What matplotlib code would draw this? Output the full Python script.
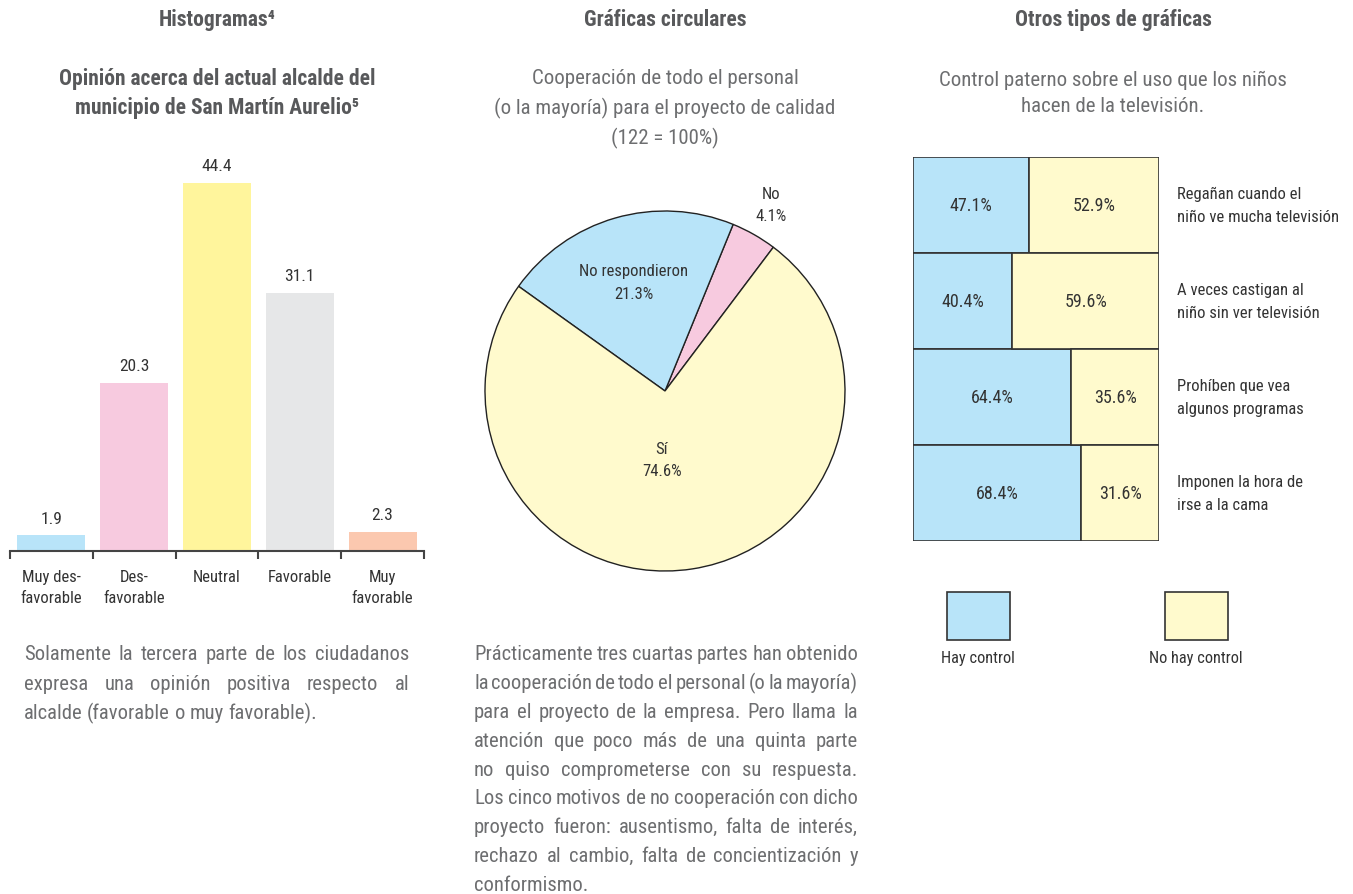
import numpy as np
import matplotlib
matplotlib.use('Agg')
import matplotlib.pyplot as plt
from matplotlib import font_manager as fm
from matplotlib.patches import Rectangle

# buscar una sans estrecha entre las instaladas
estrechas = []
for f in fm.fontManager.ttflist:
    st = f.stretch
    angosta = ('Condensed' in f.name or 'Narrow' in f.name or
               (isinstance(st, str) and 'condensed' in st) or
               (isinstance(st, (int, float)) and st < 500))
    if angosta:
        estrechas.append(f.name)
preferidas = ['Roboto Condensed', 'Liberation Sans Narrow', 'Open Sans Condensed',
              'Noto Sans', 'DejaVu Sans', 'Roboto', 'Open Sans']
fuente = next((p for p in preferidas if p in estrechas), estrechas[0] if estrechas else None)
if fuente is not None:
    plt.rcParams['font.family'] = [fuente, 'DejaVu Sans']
    plt.rcParams['font.stretch'] = 'condensed'

# Histograma: opinión sobre el alcalde
op_categorias = ['Muy des-\nfavorable', 'Des-\nfavorable', 'Neutral', 'Favorable', 'Muy\nfavorable']
op_valores = [1.9, 20.3, 44.4, 31.1, 2.3]
op_colores = ['#b8e4f9', '#f7cadf', '#fff59c', '#e6e7e8', '#fbc8af']

# Gráfica circular: cooperación del personal
coop_etiquetas = ['No', 'No respondieron', 'Sí']
coop_valores = [4.1, 21.3, 74.6]
coop_colores = ['#f7cadf', '#b8e4f9', '#fffacd']

# Control paterno (porcentajes por fila)
ctrl_filas = ['Regañan cuando el\nniño ve mucha televisión',
              'A veces castigan al\nniño sin ver televisión',
              'Prohíben que vea\nalgunos programas',
              'Imponen la hora de\nirse a la cama']
ctrl_si = [47.1, 40.4, 64.4, 68.4]
ctrl_no = [52.9, 59.6, 35.6, 31.6]
ctrl_leyenda = ['Hay control', 'No hay control']

texto_hist = ['Solamente la tercera parte de los ciudadanos',
              'expresa una opinión positiva respecto al',
              'alcalde (favorable o muy favorable).']
texto_pie = ['Prácticamente tres cuartas partes han obtenido',
             'la cooperación de todo el personal (o la mayoría)',
             'para el proyecto de la empresa. Pero llama la',
             'atención que poco más de una quinta parte',
             'no quiso comprometerse con su respuesta.',
             'Los cinco motivos de no cooperación con dicho',
             'proyecto fueron: ausentismo, falta de interés,',
             'rechazo al cambio, falta de concientización y',
             'conformismo.']

W, H = 1353, 895
TIT = '#58595b'
SUB = '#6d6e70'
ETQ = '#333333'


def fx(x):
    return x / W


def fy(y):
    return 1 - y / H


fig = plt.figure(figsize=(W / 100, H / 100), dpi=100)
rend = fig.canvas.get_renderer()


def lineas(x, y0, dy, textos, ha='center', **kw):
    for i, t in enumerate(textos):
        fig.text(fx(x), fy(y0 + i * dy), t, ha=ha, va='center', **kw)


def ancho_palabras(linea, fontsize):
    t = fig.text(0, 0, linea.replace(' ', ''), fontsize=fontsize)
    w = t.get_window_extent(rend).width
    t.remove()
    return w


def cuerpo_comun(parrafos, ancho, fontsize, hueco_min=3.0):
    # cuerpo único para que todas las líneas quepan en su columna
    f = 1.0
    for textos in parrafos:
        for linea in textos:
            n = len(linea.split()) - 1
            w = ancho_palabras(linea, fontsize)
            f = min(f, (ancho - hueco_min * n) / w)
    return fontsize * f


def justificado(x0, x1, y0, dy, textos, fontsize, **kw):
    ancho = x1 - x0
    for i, linea in enumerate(textos):
        y = fy(y0 + i * dy)
        palabras = linea.split()
        objs = [fig.text(0, y, p, ha='left', va='center', fontsize=fontsize, **kw)
                for p in palabras]
        anchos = [o.get_window_extent(rend).width for o in objs]
        if i == len(textos) - 1:
            hueco = 4.5
        else:
            hueco = (ancho - sum(anchos)) / (len(palabras) - 1)
        x = x0
        for o, a in zip(objs, anchos):
            o.set_x(fx(x))
            x += a + hueco


# ---- títulos ----
lineas(217, 20, 0, ['Histogramas⁴'], fontsize=15.5, fontweight='bold', color=TIT)
lineas(217, 79, 29, ['Opinión acerca del actual alcalde del',
                     'municipio de San Martín Aurelio⁵'],
       fontsize=15.5, fontweight='bold', color=TIT)
lineas(665, 20, 0, ['Gráficas circulares'], fontsize=15.5, fontweight='bold', color=TIT)
lineas(665, 79, 29.5, ['Cooperación de todo el personal',
                       '(o la mayoría) para el proyecto de calidad',
                       '(122 = 100%)'], fontsize=15, color=SUB)
lineas(1113, 20, 0, ['Otros tipos de gráficas'], fontsize=15.5, fontweight='bold', color=TIT)
lineas(1113, 80, 27, ['Control paterno sobre el uso que los niños',
                      'hacen de la televisión.'], fontsize=15, color=SUB)

# ---- histograma ----
ax1 = fig.add_axes([fx(10), fy(552), (424 - 10) / W, (552 - 150) / H])
x = np.arange(len(op_valores))
ax1.bar(x, op_valores, width=0.82, color=op_colores)
for xi, v in zip(x, op_valores):
    ax1.annotate(f'{v}', (xi, v), xytext=(0, 7), textcoords='offset points',
                 ha='center', va='bottom', fontsize=12.5, color=ETQ)
ax1.set_xlim(-0.5, len(op_valores) - 0.5)
ax1.set_ylim(0, 402 / 8.29)
ax1.set_xticks(x)
ax1.set_xticklabels(op_categorias, fontsize=12, color=ETQ, linespacing=1.5)
ax1.set_xticks(np.arange(len(op_valores) + 1) - 0.5, minor=True)
ax1.tick_params(axis='x', which='major', length=0, pad=13)
ax1.tick_params(axis='x', which='minor', length=6, width=1.5, color='#444444')
ax1.set_yticks([])
for s in ['top', 'right', 'left']:
    ax1.spines[s].set_visible(False)
ax1.spines['bottom'].set_color('#444444')
ax1.spines['bottom'].set_linewidth(1.5)

# ---- gráfica circular ----
ax2 = fig.add_axes([fx(485), fy(572), 360 / W, 360 / H])
cunas, _ = ax2.pie(coop_valores, colors=coop_colores, startangle=53, counterclock=True,
                   wedgeprops=dict(edgecolor='#222222', linewidth=1, clip_on=False))
ax2.set_xlim(-1, 1)
ax2.set_ylim(-1, 1)
ax2.set_aspect('auto')
radios = [1.19, 0.63, 0.38]
for c, et, v, rr in zip(cunas, coop_etiquetas, coop_valores, radios):
    ang = np.deg2rad((c.theta1 + c.theta2) / 2)
    if et == 'Sí':
        ang = np.deg2rad(267.5)
    ax2.text(rr * np.cos(ang), rr * np.sin(ang), f'{et}\n{v}%', ha='center', va='center',
             fontsize=12, color=ETQ, linespacing=1.6)

# ---- control paterno ----
ax3 = fig.add_axes([fx(913), fy(542), (1159 - 913) / W, (542 - 158) / H])
y = np.arange(len(ctrl_filas))
ax3.barh(y, ctrl_si, height=1, color='#b8e4f9', edgecolor='#333333', linewidth=1.2)
ax3.barh(y, ctrl_no, left=ctrl_si, height=1, color='#fffacd', edgecolor='#333333', linewidth=1.2)
for yi, a, b, fila in zip(y, ctrl_si, ctrl_no, ctrl_filas):
    ax3.text(a / 2, yi, f'{a}%', ha='center', va='center', fontsize=13, color=ETQ)
    ax3.text(a + b / 2, yi, f'{b}%', ha='center', va='center', fontsize=13, color=ETQ)
    ax3.text(107.5, yi, fila, ha='left', va='center', fontsize=12, color=ETQ, linespacing=1.6)
ax3.set_xlim(0, 100)
ax3.set_ylim(len(ctrl_filas) - 0.5, -0.5)
ax3.axis('off')

# leyenda
for x0, col, et in zip([947, 1165], ['#b8e4f9', '#fffacd'], ctrl_leyenda):
    fig.add_artist(Rectangle((fx(x0), fy(641)), 63 / W, 48 / H, transform=fig.transFigure,
                             facecolor=col, edgecolor='#333333', linewidth=1.2))
    fig.text(fx(x0 + 31), fy(659), et, ha='center', va='center', fontsize=11.8, color=ETQ)

# ---- textos ----
cuerpo = cuerpo_comun([texto_hist, texto_pie], 384, 16.5)
justificado(24, 409, 655, 29.2, texto_hist, cuerpo, color=SUB)
justificado(474, 858, 655, 28.8, texto_pie, cuerpo, color=SUB)

fig.savefig('out.png', dpi=100)
